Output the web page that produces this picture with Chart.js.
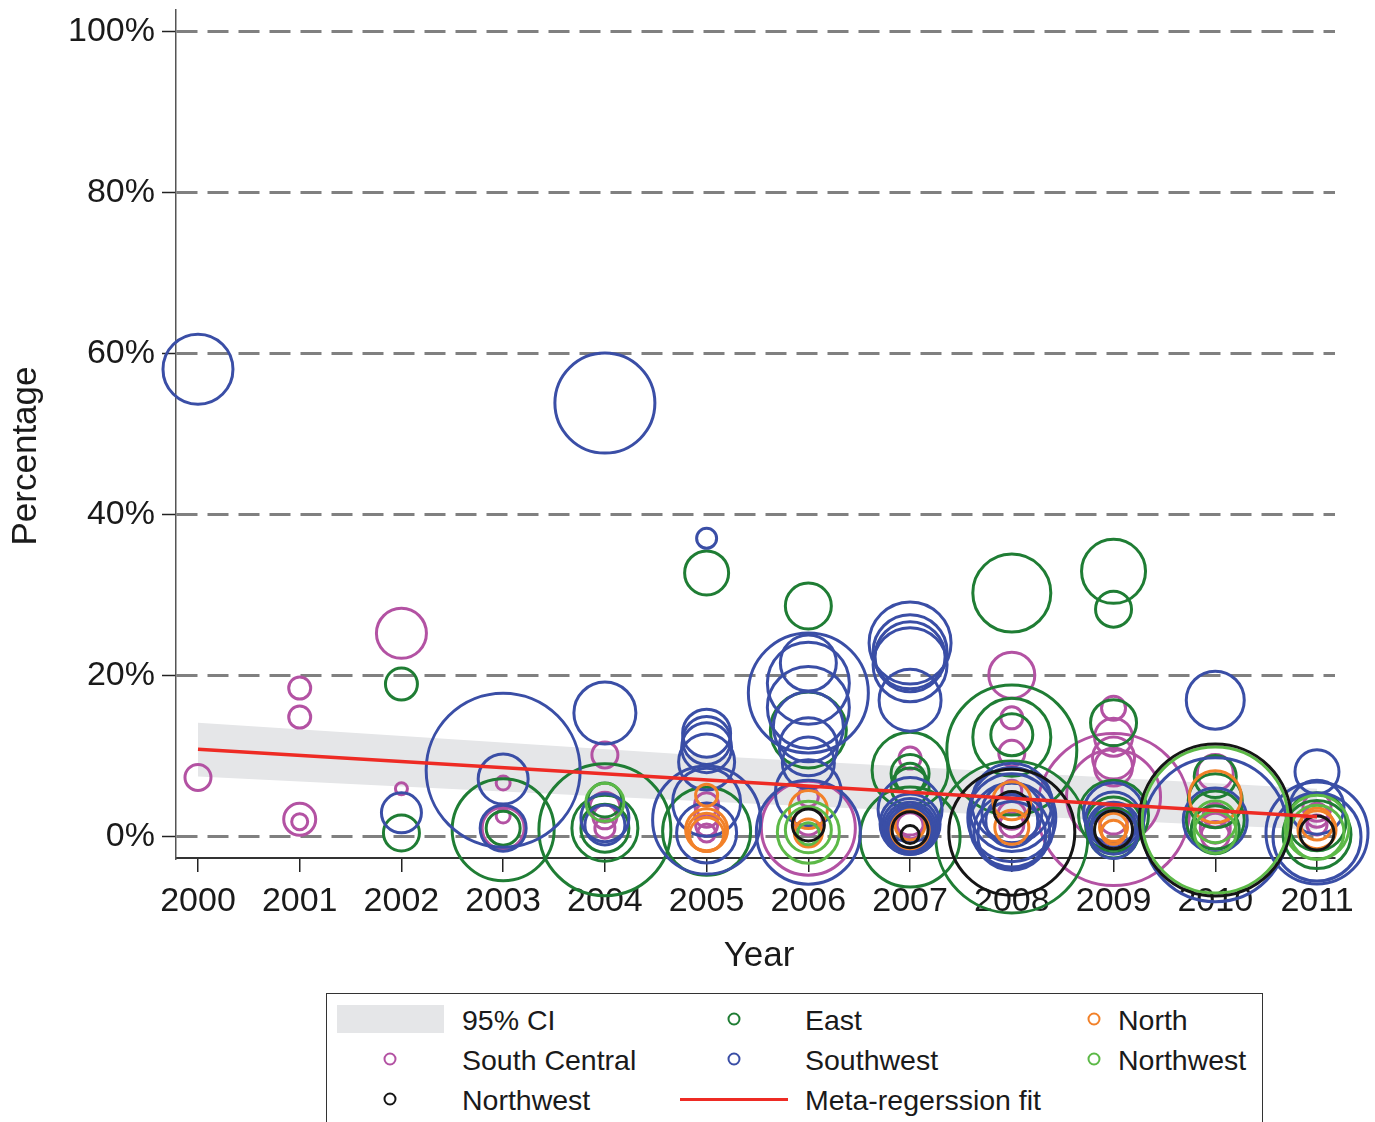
<!DOCTYPE html>
<html>
<head>
<meta charset="utf-8">
<script src="https://cdn.jsdelivr.net/npm/chart.js@4.4.1/dist/chart.umd.min.js"></script>
<style>
  html, body { margin: 0; padding: 0; background: #fff; overflow: hidden; }
  #wrap { position: relative; width: 1375px; height: 1122px; overflow: hidden; }
  #chart { position: absolute; left: 0; top: 0; }
  #legend { position: absolute; left: 326px; top: 993px; width: 937px; height: 150px;
            border: 1.5px solid #333; box-sizing: border-box; background: #fff; }
  .lt { position: absolute; font-family: "Liberation Sans", Arial, sans-serif; font-size: 28.5px;
        line-height: 1; color: #1a1a1a; transform: translateY(-50%); white-space: nowrap; }
  .ring { position: absolute; width: 13px; height: 13px; border-radius: 50%; box-sizing: border-box;
          border: 2.5px solid; transform: translate(-50%, -50%); }
  .swatch { position: absolute; left: 337px; top: 1005px; width: 107px; height: 28px; background: #e5e6e8; }
  .fitline { position: absolute; left: 680px; top: 1098px; width: 108px; height: 3px; background: #ee2b24; }
</style>
</head>
<body>
<div id="wrap">
  <canvas id="chart" width="1375" height="1122"></canvas>
  <div id="legend"></div>
  <div class="swatch"></div>
  <span class="lt" style="left:462px;top:1020px">95% CI</span>
  <div class="ring" style="left:734px;top:1019px;border-color:#1f7d34"></div>
  <span class="lt" style="left:805px;top:1020px">East</span>
  <div class="ring" style="left:1094px;top:1019px;border-color:#f28129"></div>
  <span class="lt" style="left:1118px;top:1020px">North</span>
  <div class="ring" style="left:390px;top:1059px;border-color:#b352a3"></div>
  <span class="lt" style="left:462px;top:1060px">South Central</span>
  <div class="ring" style="left:734px;top:1059px;border-color:#3a4ea6"></div>
  <span class="lt" style="left:805px;top:1060px">Southwest</span>
  <div class="ring" style="left:1094px;top:1059px;border-color:#5cb947"></div>
  <span class="lt" style="left:1118px;top:1060px">Northwest</span>
  <div class="ring" style="left:390px;top:1099px;border-color:#151515"></div>
  <span class="lt" style="left:462px;top:1100px">Northwest</span>
  <div class="fitline"></div>
  <span class="lt" style="left:805px;top:1100px">Meta-regerssion fit</span>
</div>
<script>
// Study estimates: [year, percentage, bubble size (study weight)]
const southCentral = [
  [2000, 7.4, 13],
  [2001, 18.5, 11], [2001, 14.9, 11], [2001, 2.2, 16], [2001, 1.9, 8],
  [2002, 25.3, 25], [2002, 6.0, 6],
  [2003, 6.7, 7], [2003, 2.6, 7], [2003, 1.1, 21],
  [2004, 10.2, 13], [2004, 3.7, 15], [2004, 2.5, 12], [2004, 1.1, 10],
  [2005, 4.0, 12], [2005, 2.7, 12], [2005, 1.5, 11], [2005, 0.5, 9],
  [2006, 5.0, 10], [2006, 2.0, 14], [2006, 1.1, 47],
  [2007, 9.8, 11], [2007, 2.1, 15], [2007, 1.4, 13],
  [2008, 20.1, 23], [2008, 14.8, 11], [2008, 10.4, 13], [2008, 5.8, 10], [2008, 2.7, 14], [2008, 1.5, 12],
  [2009, 16.0, 12], [2009, 12.4, 19], [2009, 11.0, 3], [2009, 9.8, 21], [2009, 8.7, 19],
  [2009, 5.0, 47], [2009, 3.4, 76], [2009, 2.1, 14],
  [2010, 8.0, 18], [2010, 2.7, 12], [2010, 1.1, 15], [2010, 0.2, 14],
  [2011, 3.7, 14], [2011, 2.7, 12], [2011, 1.5, 10]
];
const east = [
  [2002, 19.0, 16], [2002, 0.5, 18],
  [2003, 1.1, 17], [2003, 0.9, 51],
  [2004, 4.6, 17], [2004, 1.1, 33], [2004, 1.1, 24], [2004, 0.9, 66],
  [2005, 32.8, 22], [2005, 0.7, 44],
  [2006, 28.7, 23], [2006, 13.3, 38],
  [2007, 8.3, 38], [2007, 7.9, 19], [2007, 7.3, 15], [2007, 6.2, 19], [2007, 0.0, 50],
  [2008, 30.3, 39], [2008, 12.7, 21], [2008, 12.4, 39], [2008, 10.8, 65], [2008, 0.0, 76],
  [2009, 33.0, 32], [2009, 28.3, 18], [2009, 14.2, 23], [2009, 2.7, 35], [2009, 1.5, 28], [2009, 0.5, 25],
  [2010, 7.5, 21], [2010, 4.5, 27], [2010, 2.1, 29], [2010, 0.9, 24],
  [2011, 1.9, 29], [2011, 0.3, 34]
];
const southwest = [
  [2000, 58.1, 35],
  [2002, 3.0, 20],
  [2003, 8.3, 77], [2003, 7.2, 25], [2003, 1.1, 23],
  [2004, 53.9, 50], [2004, 15.4, 31], [2004, 2.4, 24], [2004, 1.5, 20],
  [2005, 37.1, 10], [2005, 12.9, 24], [2005, 12.0, 24], [2005, 11.1, 25], [2005, 9.3, 28],
  [2005, 4.3, 34], [2005, 2.1, 54], [2005, 0.5, 30],
  [2006, 21.6, 28], [2006, 19.1, 41], [2006, 17.9, 60], [2006, 16.1, 41], [2006, 13.7, 35],
  [2006, 11.2, 29], [2006, 9.2, 26], [2006, 5.5, 33], [2006, 0.6, 52],
  [2007, 24.1, 41], [2007, 23.0, 37], [2007, 22.4, 35], [2007, 21.4, 37], [2007, 17.0, 31],
  [2007, 3.4, 32], [2007, 1.6, 30], [2007, 1.3, 28], [2007, 1.1, 26], [2007, 1.0, 24],
  [2007, 0.9, 22], [2007, 0.8, 20],
  [2008, 4.2, 40], [2008, 3.4, 42], [2008, 3.0, 30], [2008, 2.4, 44], [2008, 2.0, 26],
  [2008, 1.5, 42], [2008, 0.6, 38], [2008, 0.2, 34],
  [2009, 3.0, 30], [2009, 2.1, 28], [2009, 1.5, 22], [2009, 1.1, 26], [2009, 0.3, 24],
  [2010, 17.0, 29], [2010, 2.1, 32], [2010, 0.9, 72],
  [2011, 8.1, 22], [2011, 3.7, 27], [2011, 0.5, 51], [2011, 0.0, 44]
];
const north = [
  [2005, 5.2, 11], [2005, 0.9, 21], [2005, 0.6, 19], [2005, 0.3, 17],
  [2006, 3.4, 19], [2006, 0.5, 14],
  [2007, 1.5, 15], [2007, 0.9, 19],
  [2008, 4.5, 19], [2008, 1.2, 17],
  [2009, 1.2, 14], [2009, 0.6, 12],
  [2010, 5.0, 26],
  [2011, 1.6, 16], [2011, 0.9, 19]
];
const northwestLight = [
  [2004, 4.3, 19],
  [2006, 0.9, 23], [2006, 0.6, 31], [2006, 0.4, 11],
  [2010, 2.1, 73], [2010, 1.9, 21], [2010, 0.6, 21],
  [2011, 1.2, 32], [2011, 0.6, 27]
];
const northwestDark = [
  [2006, 1.5, 16],
  [2007, 0.9, 18], [2007, 0.3, 9],
  [2008, 3.4, 18], [2008, 0.6, 63],
  [2009, 0.9, 19],
  [2010, 2.1, 76],
  [2011, 0.5, 17]
];

// Meta-regression fit and its 95% confidence band
const fitYears = [2000, 2011];
const fitPct = [10.9, 2.5];
const ciYears = [2000, 2005, 2011];
const ciUpper = [14.2, 10.1, 6.0];
const ciLower = [7.5, 4.4, 0.9];

// Axis ticks
const yearTicks = [2000, 2001, 2002, 2003, 2004, 2005, 2006, 2007, 2008, 2009, 2010, 2011];
const pctTicks = [0, 20, 40, 60, 80, 100];

const FONT = '"Liberation Sans", Arial, sans-serif';
const toPoints = (rows) => rows.map(([x, y, r]) => ({ x, y, r }));
const toLine = (xs, ys) => xs.map((x, i) => ({ x, y: ys[i] }));

function bubbles(label, rows, color, order) {
  return {
    type: 'bubble', label, data: toPoints(rows),
    backgroundColor: 'rgba(0,0,0,0)', borderColor: color, borderWidth: 3,
    clip: false, order
  };
}

const axisTitles = {
  id: 'axisTitles',
  afterDraw(chart) {
    const ctx = chart.ctx;
    ctx.save();
    ctx.fillStyle = '#1a1a1a';
    ctx.font = '35px ' + FONT;
    ctx.textAlign = 'center';
    ctx.textBaseline = 'middle';
    ctx.fillText('Year', 759, 956);
    ctx.translate(26, 456);
    ctx.rotate(-Math.PI / 2);
    ctx.fillText('Percentage', 0, 0);
    ctx.restore();
  }
};

new Chart(document.getElementById('chart'), {
  type: 'bubble',
  data: {
    datasets: [
      { type: 'line', label: '95% CI', data: toLine(ciYears, ciUpper), borderWidth: 0,
        pointRadius: 0, backgroundColor: '#e5e6e8', fill: '+1', order: 100 },
      { type: 'line', label: '95% CI lower', data: toLine(ciYears, ciLower), borderWidth: 0,
        pointRadius: 0, backgroundColor: '#e5e6e8', fill: false, order: 100 },
      bubbles('South Central', southCentral, '#b352a3', 60),
      bubbles('East', east, '#1f7d34', 50),
      bubbles('Southwest', southwest, '#3a4ea6', 40),
      bubbles('North', north, '#f28129', 30),
      bubbles('Northwest', northwestLight, '#5cb947', 20),
      bubbles('Northwest ', northwestDark, '#151515', 10),
      { type: 'line', label: 'Meta-regerssion fit', data: toLine(fitYears, fitPct),
        borderColor: '#ee2b24', borderWidth: 3.5, pointRadius: 0, fill: false, order: 0 }
    ]
  },
  options: {
    responsive: false,
    animation: false,
    events: [],
    layout: { autoPadding: false, padding: { left: 0, top: 10, right: 40, bottom: 0 } },
    plugins: { legend: { display: false }, tooltip: { enabled: false } },
    scales: {
      x: {
        type: 'linear', min: 1999.784, max: 2011.177,
        afterBuildTicks: (s) => { s.ticks = yearTicks.map((v) => ({ value: v })); },
        afterFit: (s) => { s.height = 264; s.paddingLeft = 0; s.paddingRight = 0; },
        ticks: { callback: (v) => String(v), font: { family: FONT, size: 34 }, color: '#1a1a1a',
                 padding: 9, maxRotation: 0, autoSkip: false },
        grid: { drawOnChartArea: false, drawTicks: true, tickLength: 14, tickColor: '#222',
                tickWidth: 1.5, color: '#222', lineWidth: 1.5 },
        border: { display: true, color: '#333', width: 2 }
      },
      y: {
        type: 'linear', min: -2.61, max: 102.73,
        afterBuildTicks: (s) => { s.ticks = pctTicks.map((v) => ({ value: v })); },
        afterFit: (s) => { s.width = 176; s.paddingTop = 0; s.paddingBottom = 0; },
        ticks: { callback: (v) => v + '%', font: { family: FONT, size: 34 }, color: '#1a1a1a', padding: 7 },
        grid: { color: '#808080', lineWidth: 3, tickLength: 14, tickColor: '#222', tickWidth: 1.5 },
        border: { display: true, color: '#555', width: 1.5, dash: [21, 10] }
      }
    }
  },
  plugins: [axisTitles]
});
</script>
</body>
</html>
